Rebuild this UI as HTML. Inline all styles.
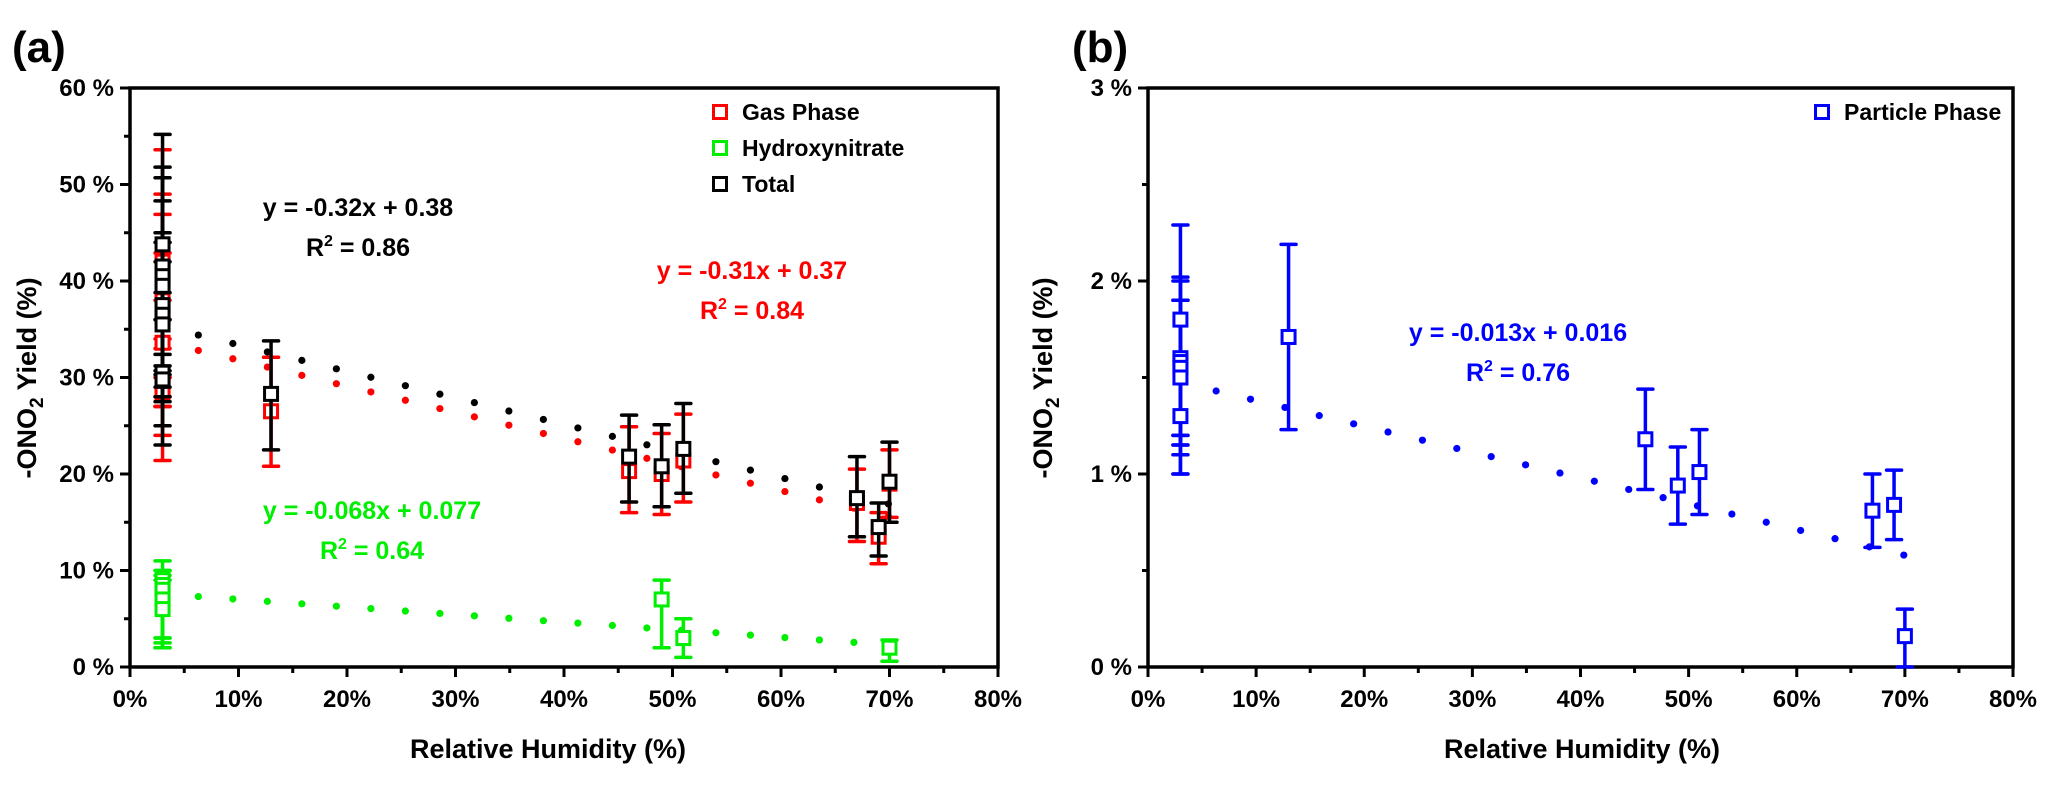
<!DOCTYPE html>
<html><head><meta charset="utf-8">
<style>
html,body{margin:0;padding:0;background:#fff;}
svg{display:block;font-family:"Liberation Sans",Arial,sans-serif;font-weight:bold;}
</style></head>
<body>
<svg id="chart" width="2067" height="787" viewBox="0 0 2067 787" xmlns="http://www.w3.org/2000/svg"></svg>
<script>
// ---------- data ----------
const xTicks = [0,10,20,30,40,50,60,70,80];
const yTicksA = [0,10,20,30,40,50,60];
const yTicksB = [0,1,2,3];

// Panel a: Gas phase (red)
const gasX   = [3,3,3,3,3,3,3,3,13,46,49,51,67,69,70];
const gasY   = [42,40,38,36.5,33.6,30,29,28.5,26.5,20.3,20.0,21.4,17.0,13.5,19.0];
const gasHi  = [53.6,49,46.9,42.9,38,36,34,33,32.1,24.9,24.2,26.2,20.5,16.0,22.5];
const gasLo  = [28,27,30,30,27,27,21.4,24,20.8,16.0,15.8,17.1,13.0,10.7,15.5];
// Panel a: Hydroxynitrate (green)
const hnX  = [3,3,3,3,3,49,51,70];
const hnY  = [9,8.5,8,7,6,7,3,2];
const hnHi = [11,10,10,9.5,9,9,5,2.8];
const hnLo = [3,3,2,2,2.5,2,1,0.6];
// Panel a: Total (black)
const totX  = [3,3,3,3,3,3,3,3,3,13,46,49,51,67,69,70];
const totY  = [43.8,41.5,40.5,39.5,37.5,36.5,35.5,30.5,29.8,28.3,21.8,20.8,22.6,17.5,14.5,19.2];
const totHi = [55.2,51.8,50.7,48.3,45,44,42,38.8,36,33.8,26.1,25.1,27.3,21.8,17.0,23.3];
const totLo = [32.4,31.2,30.3,30.7,29,28,27.5,23,25,22.5,17.1,16.6,18.0,13.5,11.5,15.0];
// Panel b: Particle phase (blue)
const parX  = [3,3,3,3,3,3,13,46,49,51,67,69,70];
const parY  = [1.8,1.6,1.58,1.55,1.5,1.3,1.71,1.18,0.94,1.01,0.81,0.84,0.16];
const parHi = [2.29,2.02,2.0,1.9,1.9,1.2,2.19,1.44,1.14,1.23,1.0,1.02,0.30];
const parLo = [1.15,1.1,1.2,1.0,1.15,1.0,1.23,0.92,0.74,0.79,0.62,0.66,0.0];

// fit lines (dotted), values at x-start and x-end
const fitStartX = 6.3, fitEndX = 69.9, fitStep = 3.18;
const fitTotal = [34.4, 16.9];
const fitGas   = [32.8, 15.6];
const fitHn    = [7.3, 2.3];
const fitPar   = [1.43, 0.58];

// ---------- geometry ----------
const NS = "http://www.w3.org/2000/svg";
const svg = document.getElementById('chart');
const Y0 = 667, Y1 = 88;
const A = {x0:130, x1:998, ymax:60, minor:5};
const B = {x0:1148, x1:2013, ymax:3, minor:0.5};
function sx(P,v){return P.x0 + (P.x1-P.x0)*v/80;}
function sy(P,v){return Y0 - (Y0-Y1)*v/P.ymax;}
function mk(tag, attrs, parent){
  const e = document.createElementNS(NS, tag);
  for (const k in attrs) e.setAttribute(k, attrs[k]);
  (parent||svg).appendChild(e);
  return e;
}
function txt(s, x, y, size, fill, anchor, parent){
  const t = mk('text', {x:x, y:y, 'font-size':size, fill:fill, 'text-anchor':anchor||'middle'}, parent);
  t.textContent = s;
  return t;
}

function axes(P, yTicks, fmt, name){
  const g = mk('g', {});
  
  
  mk('rect', {x:P.x0, y:Y1, width:P.x1-P.x0, height:Y0-Y1, fill:'none', stroke:'#000', 'stroke-width':3.5}, g);
  for (let v=0; v<=80; v+=5){
    const x = sx(P,v), major = v%10===0;
    mk('line',{x1:x,y1:Y0,x2:x,y2:Y0+(major?10:6),stroke:'#000','stroke-width':3},g);
  }
  xTicks.forEach(v=>{
    const t = txt(v+'%', sx(P,v), Y0+40, 24, '#000', 'middle', g);
    
    
  });
  for (let v=0; v<=P.ymax+1e-9; v+=P.minor){
    const y = sy(P,v), major = Math.abs(v-Math.round(v/(P.minor*2))*P.minor*2)<1e-6;
    mk('line',{x1:P.x0,y1:y,x2:P.x0-(major?10:6),y2:y,stroke:'#000','stroke-width':3},g);
  }
  yTicks.forEach(v=>{
    const t = txt(fmt(v), P.x0-16, sy(P,v)+8, 24, '#000', 'end', g);
    
    
  });
}

function dots(P, fit, color, name){
  const g = mk('g', {});
  
  
  const slope = (fit[1]-fit[0])/(fitEndX-fitStartX);
  for (let x=fitStartX; x<=fitEndX+0.01; x+=fitStep){
    const c = mk('circle',{cx:sx(P,x), cy:sy(P,fit[0]+slope*(x-fitStartX)), r:3.6, fill:color}, g);
    
    
  }
}

function series(P, xs, ys, hi, lo, color, name){
  const g = mk('g', {});
  
  
  xs.forEach((xv,i)=>{
    const x = sx(P,xv);
    mk('line',{x1:x,y1:sy(P,hi[i]),x2:x,y2:sy(P,lo[i]),stroke:color,'stroke-width':3.5},g);
    [hi[i],lo[i]].forEach(c=>{
      mk('line',{x1:x-7.5,y1:sy(P,c),x2:x+7.5,y2:sy(P,c),stroke:color,'stroke-width':3.5,'stroke-linecap':'round'},g);
    });
  });
  xs.forEach((xv,i)=>{
    const r = mk('rect',{x:sx(P,xv)-6.5, y:sy(P,ys[i])-6.5, width:13, height:13, fill:'#fff', stroke:color,'stroke-width':3},g);
    
    
  });
}

axes(A, yTicksA, v=>v+' %', 'panel-a');
dots(A, fitGas, '#ff0000', 'gas-fit-line');
dots(A, fitTotal, '#000', 'total-fit-line');
dots(A, fitHn, '#00ee00', 'hydroxynitrate-fit-line');
series(A, gasX, gasY, gasHi, gasLo, '#ff0000', 'gas-phase-series');
series(A, hnX, hnY, hnHi, hnLo, '#00ee00', 'hydroxynitrate-series');
series(A, totX, totY, totHi, totLo, '#000', 'total-series');

axes(B, yTicksB, v=>v+' %', 'panel-b');
dots(B, fitPar, '#0000ff', 'particle-fit-line');
series(B, parX, parY, parHi, parLo, '#0000ff', 'particle-phase-series');

function label(s,x,y,size,fill,name,anchor){
  const t = txt(s,x,y,size,fill,anchor);
  
  
  return t;
}
label('(a)', 12, 62, 44, '#000', 'panel-a-label', 'start');
label('(b)', 1072, 62, 44, '#000', 'panel-b-label', 'start');
label('Relative Humidity (%)', 548, 758, 27, '#000', 'x-axis-title-a');
label('Relative Humidity (%)', 1582, 758, 27, '#000', 'x-axis-title-b');

function ytitle(cx, cy, name){
  const t = mk('text',{x:0,y:0,'font-size':27,fill:'#000','text-anchor':'middle',transform:'translate('+cx+','+cy+') rotate(-90)'});
  
  
  t.innerHTML = '-ONO<tspan font-size="19" dy="7">2</tspan><tspan dy="-7"> Yield (%)</tspan>';
}
ytitle(36, 378, 'y-axis-title-a');
ytitle(1052, 378, 'y-axis-title-b');

function eq(s, r2, x, y, color, nameBase){
  label(s, x, y, 25, color, nameBase+'-equation');
  const t = mk('text',{x:x, y:y+40,'font-size':25,fill:color,'text-anchor':'middle'});
  
  
  t.innerHTML = 'R<tspan font-size="16" dy="-10">2</tspan><tspan dy="10"> = '+r2+'</tspan>';
}
eq('y = -0.32x + 0.38','0.86', 358, 216, '#000', 'total-fit');
eq('y = -0.31x + 0.37','0.84', 752, 279, '#ff0000', 'gas-fit');
eq('y = -0.068x + 0.077','0.64', 372, 519, '#00ee00', 'hydroxynitrate-fit');
eq('y = -0.013x + 0.016','0.76', 1518, 341, '#0000ff', 'particle-fit');

function legend(items, x, y0, name){
  const g = mk('g',{});
  
  
  items.forEach((it,i)=>{
    const y = y0 + i*36;
    const e = mk('g',{},g);
    
    
    mk('rect',{x:x-6.5,y:y-6.5,width:13,height:13,fill:'#fff',stroke:it[1],'stroke-width':3},e);
    txt(it[0], x+22, y+8, 23, '#000', 'start', e);
  });
}
legend([['Gas Phase','#ff0000'],['Hydroxynitrate','#00ee00'],['Total','#000']], 720, 112, 'legend-a');
legend([['Particle Phase','#0000ff']], 1822, 112, 'legend-b');
</script>
</body></html>
